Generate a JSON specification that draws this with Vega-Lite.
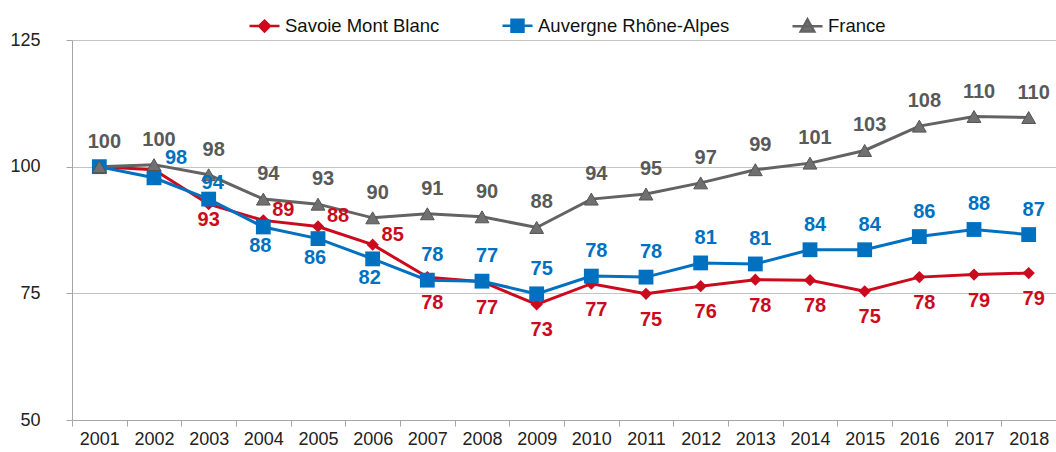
{
  "$schema": "https://vega.github.io/schema/vega-lite/v6.json",
  "width": 984,
  "height": 380,
  "autosize": {"type": "none"},
  "padding": {"left": 72, "top": 40, "right": 0, "bottom": 32},
  "config": {
    "view": {"stroke": null},
    "font": "Liberation Sans",
    "axis": {"labelFont": "Liberation Sans", "labelColor": "#222222", "labelFontSize": 18}
  },
  "data": {
    "values": [
      {"year": 2001, "series": "Savoie Mont Blanc", "value": 100},
      {"year": 2002, "series": "Savoie Mont Blanc", "value": 99.4},
      {"year": 2003, "series": "Savoie Mont Blanc", "value": 92.6},
      {"year": 2004, "series": "Savoie Mont Blanc", "value": 89.4},
      {"year": 2005, "series": "Savoie Mont Blanc", "value": 88.2},
      {"year": 2006, "series": "Savoie Mont Blanc", "value": 84.6},
      {"year": 2007, "series": "Savoie Mont Blanc", "value": 78.2},
      {"year": 2008, "series": "Savoie Mont Blanc", "value": 77.3},
      {"year": 2009, "series": "Savoie Mont Blanc", "value": 72.8},
      {"year": 2010, "series": "Savoie Mont Blanc", "value": 76.9},
      {"year": 2011, "series": "Savoie Mont Blanc", "value": 74.9},
      {"year": 2012, "series": "Savoie Mont Blanc", "value": 76.4},
      {"year": 2013, "series": "Savoie Mont Blanc", "value": 77.7},
      {"year": 2014, "series": "Savoie Mont Blanc", "value": 77.6},
      {"year": 2015, "series": "Savoie Mont Blanc", "value": 75.4},
      {"year": 2016, "series": "Savoie Mont Blanc", "value": 78.2},
      {"year": 2017, "series": "Savoie Mont Blanc", "value": 78.7},
      {"year": 2018, "series": "Savoie Mont Blanc", "value": 79.0},
      {"year": 2001, "series": "Auvergne Rhône-Alpes", "value": 100},
      {"year": 2002, "series": "Auvergne Rhône-Alpes", "value": 97.8},
      {"year": 2003, "series": "Auvergne Rhône-Alpes", "value": 93.6},
      {"year": 2004, "series": "Auvergne Rhône-Alpes", "value": 88.1},
      {"year": 2005, "series": "Auvergne Rhône-Alpes", "value": 85.8},
      {"year": 2006, "series": "Auvergne Rhône-Alpes", "value": 81.8},
      {"year": 2007, "series": "Auvergne Rhône-Alpes", "value": 77.6},
      {"year": 2008, "series": "Auvergne Rhône-Alpes", "value": 77.4},
      {"year": 2009, "series": "Auvergne Rhône-Alpes", "value": 74.9},
      {"year": 2010, "series": "Auvergne Rhône-Alpes", "value": 78.4},
      {"year": 2011, "series": "Auvergne Rhône-Alpes", "value": 78.2},
      {"year": 2012, "series": "Auvergne Rhône-Alpes", "value": 81.0},
      {"year": 2013, "series": "Auvergne Rhône-Alpes", "value": 80.8},
      {"year": 2014, "series": "Auvergne Rhône-Alpes", "value": 83.6},
      {"year": 2015, "series": "Auvergne Rhône-Alpes", "value": 83.6},
      {"year": 2016, "series": "Auvergne Rhône-Alpes", "value": 86.2},
      {"year": 2017, "series": "Auvergne Rhône-Alpes", "value": 87.6},
      {"year": 2018, "series": "Auvergne Rhône-Alpes", "value": 86.6},
      {"year": 2001, "series": "France", "value": 100},
      {"year": 2002, "series": "France", "value": 100.4},
      {"year": 2003, "series": "France", "value": 98.4},
      {"year": 2004, "series": "France", "value": 93.6},
      {"year": 2005, "series": "France", "value": 92.6},
      {"year": 2006, "series": "France", "value": 89.9},
      {"year": 2007, "series": "France", "value": 90.7},
      {"year": 2008, "series": "France", "value": 90.1},
      {"year": 2009, "series": "France", "value": 88.0},
      {"year": 2010, "series": "France", "value": 93.6},
      {"year": 2011, "series": "France", "value": 94.6},
      {"year": 2012, "series": "France", "value": 96.8},
      {"year": 2013, "series": "France", "value": 99.4},
      {"year": 2014, "series": "France", "value": 100.7},
      {"year": 2015, "series": "France", "value": 103.2},
      {"year": 2016, "series": "France", "value": 108.0},
      {"year": 2017, "series": "France", "value": 109.9},
      {"year": 2018, "series": "France", "value": 109.7}
    ]
  },
  "encoding": {
    "x": {
      "field": "year", "type": "ordinal",
      "scale": {"type": "band", "paddingInner": 0, "paddingOuter": 0},
      "axis": {"title": null, "labelAngle": 0, "tickBand": "extent", "tickSize": 6, "labelPadding": 4, "domainColor": "#A6A6A6", "tickColor": "#A6A6A6", "grid": false}
    },
    "y": {
      "field": "value", "type": "quantitative",
      "scale": {"domain": [50, 125], "nice": false, "zero": false},
      "axis": {"title": null, "values": [50, 75, 100, 125], "grid": true, "gridColor": "#C4C4C4", "domainColor": "#A6A6A6", "tickColor": "#A6A6A6", "tickSize": 6, "labelPadding": 26}
    }
  },
  "layer": [
    {
      "transform": [{"filter": "datum.series === 'Savoie Mont Blanc'"}],
      "mark": {"type": "line", "strokeWidth": 3, "color": "#CC0A1E"}
    },
    {
      "transform": [{"filter": "datum.series === 'Auvergne Rhône-Alpes'"}],
      "mark": {"type": "line", "strokeWidth": 3, "color": "#0070C0"}
    },
    {
      "transform": [{"filter": "datum.series === 'France'"}],
      "mark": {"type": "line", "strokeWidth": 3, "color": "#636363"}
    },
    {
      "transform": [{"filter": "datum.series === 'Savoie Mont Blanc'"}],
      "mark": {"type": "point", "shape": "diamond", "filled": true, "opacity": 1, "size": 150, "color": "#CC0A1E"}
    },
    {
      "transform": [{"filter": "datum.series === 'Auvergne Rhône-Alpes'"}],
      "mark": {"type": "point", "shape": "square", "filled": true, "opacity": 1, "size": 220, "color": "#0070C0"}
    },
    {
      "transform": [{"filter": "datum.series === 'France'"}],
      "mark": {"type": "point", "shape": "triangle-up", "filled": true, "opacity": 1, "size": 190, "fill": "#707070", "stroke": "#555555", "strokeWidth": 1}
    },
    {
      "mark": {"type": "point", "filled": true, "fillOpacity": 0, "strokeOpacity": 0},
      "encoding": {
        "shape": {"field": "series", "type": "nominal",
          "scale": {"domain": ["Savoie Mont Blanc", "Auvergne Rhône-Alpes", "France"],
            "range": ["M-1,0H1M0,-0.36L0.36,0L0,0.36L-0.36,0Z", "M-1,0H1M-0.4,-0.4H0.4V0.4H-0.4Z", "M-1,0H1M0,-0.45L0.45,0.35H-0.45Z"]},
          "legend": {"orient": "none", "direction": "horizontal", "legendX": 176, "legendY": -31, "title": null,
            "symbolSize": 900, "symbolStrokeWidth": 2.5, "symbolOpacity": 1, "labelFontSize": 18.5, "labelLimit": 0, "labelFont": "Liberation Sans", "labelColor": "#111111", "labelOffset": 4, "columnPadding": 57}},
        "fill": {"field": "series", "type": "nominal",
          "scale": {"domain": ["Savoie Mont Blanc", "Auvergne Rhône-Alpes", "France"], "range": ["#CC0A1E", "#0070C0", "#707070"]},
          "legend": {"orient": "none", "direction": "horizontal", "legendX": 176, "legendY": -31, "title": null,
            "symbolSize": 900, "symbolStrokeWidth": 2.5, "symbolOpacity": 1, "labelFontSize": 18.5, "labelLimit": 0, "labelFont": "Liberation Sans", "labelColor": "#111111", "labelOffset": 4, "columnPadding": 57}},
        "stroke": {"field": "series", "type": "nominal",
          "scale": {"domain": ["Savoie Mont Blanc", "Auvergne Rhône-Alpes", "France"], "range": ["#CC0A1E", "#0070C0", "#636363"]},
          "legend": {"orient": "none", "direction": "horizontal", "legendX": 176, "legendY": -31, "title": null,
            "symbolSize": 900, "symbolStrokeWidth": 2.5, "symbolOpacity": 1, "labelFontSize": 18.5, "labelLimit": 0, "labelFont": "Liberation Sans", "labelColor": "#111111", "labelOffset": 4, "columnPadding": 57}}
      }
    },
    {
      "transform": [{"filter": "datum.series === 'France'"}],
      "mark": {"type": "text", "fontWeight": "bold", "fontSize": 20, "color": "#595959", "dy": -25, "dx": 5, "baseline": "middle"},
      "encoding": {"text": {"field": "value", "type": "quantitative", "format": ".0f"}}
    },
    {
      "transform": [{"filter": "datum.series === 'Savoie Mont Blanc' && datum.year >= 2007"}],
      "mark": {"type": "text", "fontWeight": "bold", "fontSize": 20, "color": "#CC0A1E", "dy": 26, "dx": 5, "baseline": "middle"},
      "encoding": {"text": {"field": "value", "type": "quantitative", "format": ".0f"}}
    },
    {
      "transform": [{"filter": "datum.series === 'Savoie Mont Blanc' && datum.year === 2003"}],
      "mark": {"type": "text", "fontWeight": "bold", "fontSize": 20, "color": "#CC0A1E", "dy": 16, "dx": 0, "baseline": "middle"},
      "encoding": {"text": {"field": "value", "type": "quantitative", "format": ".0f"}}
    },
    {
      "transform": [{"filter": "datum.series === 'Savoie Mont Blanc' && datum.year >= 2004 && datum.year <= 2006"}],
      "mark": {"type": "text", "fontWeight": "bold", "fontSize": 20, "color": "#CC0A1E", "dy": -10, "dx": 20, "baseline": "middle"},
      "encoding": {"text": {"field": "value", "type": "quantitative", "format": ".0f"}}
    },
    {
      "transform": [{"filter": "datum.series === 'Auvergne Rhône-Alpes' && datum.year >= 2007"}],
      "mark": {"type": "text", "fontWeight": "bold", "fontSize": 20, "color": "#0070C0", "dy": -25, "dx": 5, "baseline": "middle"},
      "encoding": {"text": {"field": "value", "type": "quantitative", "format": ".0f"}}
    },
    {
      "transform": [{"filter": "datum.series === 'Auvergne Rhône-Alpes' && datum.year === 2003"}],
      "mark": {"type": "text", "fontWeight": "bold", "fontSize": 20, "color": "#0070C0", "dy": -16, "dx": 4, "baseline": "middle"},
      "encoding": {"text": {"field": "value", "type": "quantitative", "format": ".0f"}}
    },
    {
      "transform": [{"filter": "datum.series === 'Auvergne Rhône-Alpes' && datum.year === 2002"}],
      "mark": {"type": "text", "fontWeight": "bold", "fontSize": 20, "color": "#0070C0", "dy": -20, "dx": 22, "baseline": "middle"},
      "encoding": {"text": {"field": "value", "type": "quantitative", "format": ".0f"}}
    },
    {
      "transform": [{"filter": "datum.series === 'Auvergne Rhône-Alpes' && datum.year >= 2004 && datum.year <= 2006"}],
      "mark": {"type": "text", "fontWeight": "bold", "fontSize": 20, "color": "#0070C0", "dy": 19, "dx": -3, "baseline": "middle"},
      "encoding": {"text": {"field": "value", "type": "quantitative", "format": ".0f"}}
    }
  ]
}
